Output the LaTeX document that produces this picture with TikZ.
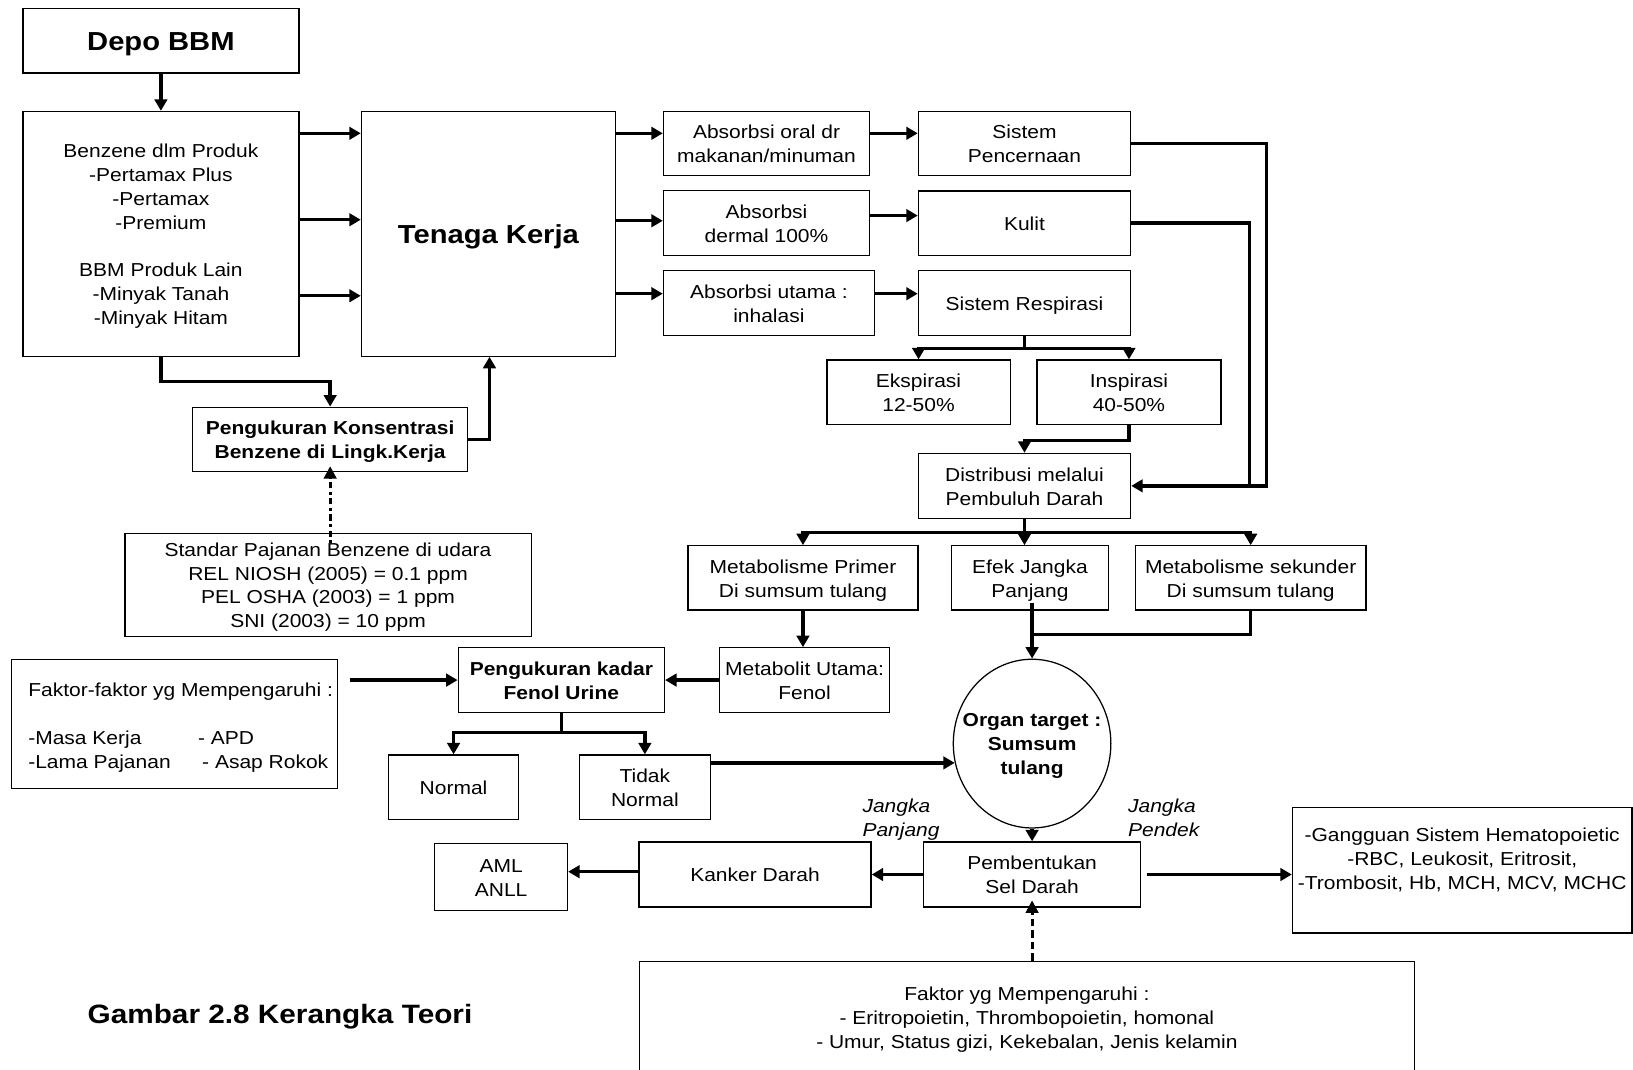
\documentclass[tikz,border=0pt]{standalone}
\usepackage{fontspec}
\setmainfont{Liberation Sans}[FakeStretch=1.12]
\usetikzlibrary{arrows.meta,shapes.geometric,calc}
\newcommand\tsA{\rule{0pt}{18.9pt}}
\newcommand\bsA{\rule[-5pt]{0pt}{5pt}}
\newcommand\tsB{\rule{0pt}{25.4pt}}
\newcommand\bsB{\rule[-7pt]{0pt}{7pt}}
\begin{document}
\begin{tikzpicture}[x=1pt,y=-1pt,
  every node/.style={font=\fontsize{18}{23}\selectfont},
  box/.style={draw, line width=1.2pt, align=center, inner sep=0pt, rectangle},
  sz/.style 2 args={minimum width=#1pt, minimum height=#2pt},
  con/.style={line width=3.2pt, -{Triangle[length=11pt,width=12pt]}},
  ln/.style={line width=3.2pt},
  dotcon/.style={line width=2.8pt, dash pattern=on 2.5pt off 3.5pt on 6pt off 3.5pt, -{Triangle[length=12pt,width=12pt]}},
  dashcon/.style={line width=2.8pt, dash pattern=on 7pt off 4pt, -{Triangle[length=12pt,width=12pt]}},
  bigb/.style={font=\fontsize{25}{30}\selectfont\bfseries},
  bld/.style={font=\fontsize{18}{23}\selectfont\bfseries},
  lbl/.style={font=\fontsize{18}{23}\selectfont\itshape, align=left, anchor=west, inner sep=0pt},
]
\useasboundingbox[fill=white] (0,0) rectangle (1568,1027);

% nodes
\node[box, bigb, sz={265}{62}] (depo) at (154.5,39) {\tsB Depo BBM\bsB};
\node[box, sz={265}{235}] (benz) at (154.5,224.5) {\tsA Benzene dlm Produk\\-Pertamax Plus\\-Pertamax\\-Premium\\[23pt]BBM Produk Lain\\-Minyak Tanah\\-Minyak Hitam\bsA};
\node[box, bigb, sz={244}{235}] (tk) at (469,224.5) {\tsB Tenaga Kerja\bsB};
\node[box, bld, sz={264}{62}] (pk1) at (317,422) {\tsA Pengukuran Konsentrasi\\Benzene di Lingk.Kerja\bsA};
\node[box, sz={390}{99}] (std) at (315,561.5) {\tsA Standar Pajanan Benzene di udara\\REL NIOSH (2005) = 0.1 ppm\\PEL OSHA (2003) = 1 ppm\\SNI (2003) = 10 ppm\bsA};
\node[box, sz={198}{61.5}] (abs1) at (736,137.75) {\tsA Absorbsi oral dr\\makanan/minuman\bsA};
\node[box, sz={198}{62}] (abs2) at (736,214) {\tsA Absorbsi\\dermal 100\%\bsA};
\node[box, sz={202.5}{62}] (abs3) at (738.25,291) {\tsA Absorbsi utama :\\inhalasi\bsA};
\node[box, sz={203.8}{61.5}] (sp) at (983.7,137.75) {\tsA Sistem\\Pencernaan\bsA};
\node[box, sz={203.8}{61.5}] (kul) at (983.7,214.25) {\tsA Kulit\bsA};
\node[box, sz={203.8}{62}] (resp) at (983.7,291) {\tsA Sistem Respirasi\bsA};
\node[box, sz={176}{61.7}] (eksp) at (882,376.5) {\tsA Ekspirasi\\12-50\%\bsA};
\node[box, sz={176.7}{61.7}] (insp) at (1084,376.5) {\tsA Inspirasi\\40-50\%\bsA};
\node[box, sz={203.8}{62.4}] (dist) at (983.7,466.5) {\tsA Distribusi melalui\\Pembuluh Darah\bsA};
\node[box, sz={221}{61.7}] (mp) at (771,554.9) {\tsA Metabolisme Primer\\Di sumsum tulang\bsA};
\node[box, sz={151}{61.7}] (efek) at (989,554.9) {\tsA Efek Jangka\\Panjang\bsA};
\node[box, sz={221.4}{61.7}] (ms) at (1200.9,554.9) {\tsA Metabolisme sekunder\\Di sumsum tulang\bsA};
\node[box, sz={163}{62}] (met) at (772.5,653) {\tsA Metabolit Utama:\\Fenol\bsA};
\node[box, bld, sz={198}{62}] (pk2) at (539,653) {\tsA Pengukuran kadar\\Fenol Urine\bsA};
\node[box, sz={313}{124}] (fk) at (167.5,695) {};
\node[anchor=west, align=left, inner sep=0pt] (fktext) at (27,696.5) {\tsA Faktor-faktor yg Mempengaruhi :\\[23pt]\makebox[163pt][l]{-Masa Kerja}- APD\\\makebox[167pt][l]{-Lama Pajanan}- Asap Rokok\bsA};
\node[box, sz={125}{61.7}] (normal) at (435.5,755.8) {\tsA Normal\bsA};
\node[box, sz={125.6}{61.7}] (tidak) at (619.2,755.8) {\tsA Tidak\\Normal\bsA};
\node[draw, ellipse, line width=1.2pt, inner sep=0pt, minimum width=151.3pt, minimum height=162pt] (organ) at (991,714) {};
\node[bld, align=center, inner sep=0pt] (organtext) at (organ.center) {\tsA Organ target :\\Sumsum\\tulang\bsA};
\node[box, sz={208}{62.5}] (pemb) at (991,839.7) {\tsA Pembentukan\\Sel Darah\bsA};
\node[box, sz={222.8}{62.5}] (kanker) at (725,839.7) {\tsA Kanker Darah\bsA};
\node[box, sz={127.5}{64.6}] (aml) at (481.2,842.1) {\tsA AML\\ANLL\bsA};
\node[box, sz={326}{120.5}] (gg) at (1404,835.7) {\tsA -Gangguan Sistem Hematopoietic\\-RBC, Leukosit, Eritrosit,\\-Trombosit, Hb, MCH, MCV, MCHC\\\mbox{}\bsA};
\node[box, sz={744}{108}] (fk2) at (986,977) {\tsA Faktor yg Mempengaruhi :\\- Eritropoietin, Thrombopoietin, homonal\\- Umur, Status gizi, Kekebalan, Jenis kelamin\bsA};
\node[lbl] (jp) at (828,785) {\tsA Jangka\\Panjang\bsA};
\node[lbl] (jpd) at (1083,785) {\tsA Jangka\\Pendek\bsA};
\node[anchor=base west, inner sep=0pt, font=\fontsize{25.5}{30}\selectfont\bfseries] (cap) at (84,982.5) {Gambar 2.8 Kerangka Teori};

% connectors
\draw[con] (depo.south) -- (benz.north);
\foreach \yy in {128,211,284} \draw[con] (benz.east |- 0,\yy) -- (tk.west |- 0,\yy);
\draw[con] (benz.south) -- (benz.south |- 0,366) -| (pk1.north);
\draw[con] (pk1.east) -| (tk.south -| 470,0);
\draw[dotcon] ($(pk1.south |- std.north)+(0,10)$) -- ($(pk1.south)+(0,-6)$);
\draw[con] (tk.east |- 0,128) -- (abs1.west |- 0,128);
\draw[con] (tk.east |- 0,212) -- (abs2.west |- 0,212);
\draw[con] (tk.east |- 0,282) -- (abs3.west |- 0,282);
\draw[con] (abs1.east |- 0,128) -- (sp.west |- 0,128);
\draw[con] (abs2.east |- 0,207) -- (kul.west |- 0,207);
\draw[con] (abs3.east |- 0,282) -- (resp.west |- 0,282);
\draw[con] (resp.south) -- ++(0,12) -| (eksp.north);
\draw[con] (resp.south) -- ++(0,12) -| (insp.north);
\draw[con] (insp.south) -- ++(0,15) -| (dist.north);
\draw[con] (sp.east) -| (1216,466.5) -- (dist.east);
\draw[ln] (kul.east) -| (1200,466.5);
\draw[con] (dist.south) -- ++(0,13) -| (mp.north);
\draw[con] (dist.south) -- ++(0,13) -| (ms.north);
\draw[con] (dist.south) -- (dist.south |- efek.north);
\draw[con] (mp.south) -- (mp.south |- met.north);
\draw[con] ($(organ.north |- efek.south)+(0,-7)$) -- (organ.north);
\draw[ln] (ms.south) |- (organ.north |- 0,609);
\draw[con] (met.west) -- (pk2.east);
\draw[con] ($(fk.east |- pk2.west)+(11,0)$) -- (pk2.west);
\draw[con] (pk2.south) -- ++(0,18.5) -| (normal.north);
\draw[con] (pk2.south) -- ++(0,18.5) -| (tidak.north);
\draw[con] (tidak.east |- organ.194) -- (organ.194);
\draw[con] (organ.south) -- (organ.south |- pemb.north);
\draw[con] (pemb.west) -- (kanker.east);
\draw[con] (kanker.west |- 0,837) -- (aml.east |- 0,837);
\draw[con] ($(pemb.east)+(6,0)$) -- (gg.west |- pemb.east);
\draw[dashcon] (pemb.south |- fk2.north) -- ($(pemb.south)+(0,-7)$);
\end{tikzpicture}
\end{document}
